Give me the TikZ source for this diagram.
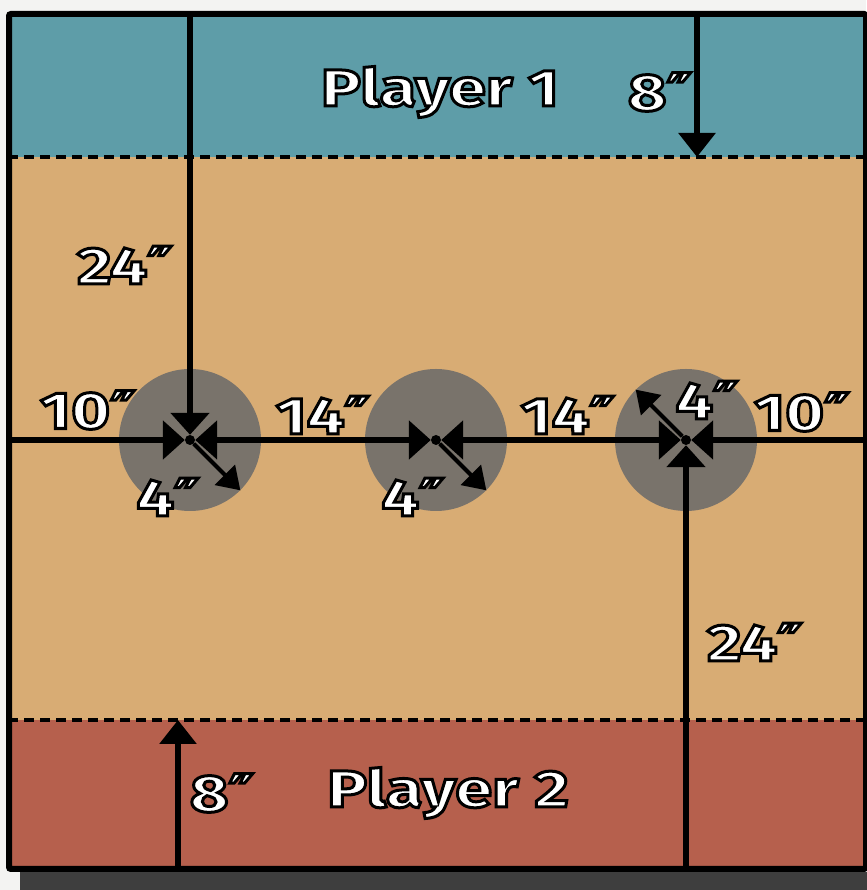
\documentclass[tikz,border=0pt]{standalone}
\usepackage{fontspec}
\newfontfamily\boardfont{Fira Sans}[FakeStretch=1.28]
\newfontfamily\markfont{DejaVu Sans}[FakeStretch=1.1]
\usetikzlibrary{arrows.meta}

\definecolor{paper}{HTML}{F3F3F2}
\definecolor{shadowgrey}{HTML}{3E3E3E}
\definecolor{sand}{HTML}{D8AC74}
\definecolor{bluezone}{HTML}{5E9DA8}
\definecolor{redzone}{HTML}{B6604D}
\definecolor{discgrey}{HTML}{79736B}

% white letters with a black rim
\newcommand{\outl}[1]{\special{pdf:literal direct 2 Tr 3 w 0 0 0 RG}#1\special{pdf:literal direct 0 Tr}}
\newcommand{\inch}{{\markfont\bfseries\char"2033}}

\begin{document}
\begin{tikzpicture}[x=1pt,y=1pt,
  lbl/.style={font=\boardfont\bfseries\fontsize{52}{52}\selectfont,text=white,inner sep=0pt},
  disc/.style={circle,fill=discgrey,minimum size=142pt,inner sep=0pt},
  dot/.style={circle,fill=black,minimum size=10pt,inner sep=0pt},
  dim/.style={line width=6pt,-{Triangle[length=22pt,width=38pt]}},
  dimboth/.style={line width=6pt,{Triangle[length=22pt,width=38pt]}-{Triangle[length=22pt,width=38pt]}},
  half/.style={line width=6pt,-{Triangle[length=24pt,width=36pt]}},
  rad/.style={line width=4pt,-{Triangle[length=22pt,width=28pt]}},
  zone/.style={line width=3.5pt,dash pattern=on 10pt off 6pt}]
\useasboundingbox (0,0) rectangle (866,890);
\fill[paper] (0,0) rectangle (866,890);
% shadow and board
\fill[shadowgrey] (20,0) rectangle (870,18);
\fill[sand] (8,19) rectangle (866,878);
\fill[bluezone] (8,733) rectangle (866,878);
\fill[redzone] (8,19) rectangle (866,170);
\draw[zone] (8,733) -- (866,733);
\draw[zone] (8,170) -- (866,170);
\draw[line width=6pt,rounded corners=2pt] (9,21) rectangle (866,876);

% objectives
\node[disc] (o1) at (190,450) {};
\node[disc] (o2) at (436,450) {};
\node[disc] (o3) at (686,450) {};
\node[dot] (c1) at (o1) {};
\node[dot] (c2) at (o2) {};
\node[dot] (c3) at (o3) {};

\coordinate (lft) at (8,450);
\coordinate (rgt) at (866,450);
\coordinate (top1) at (190,878);
\coordinate (bot3) at (686,19);
\coordinate (top8) at (697,878);
\coordinate (edge1) at (697,733);
\coordinate (bot8) at (178,19);
\coordinate (edge2) at (178,170);

\draw[dim] (lft) -- (c1);
\draw[dimboth] (c1) -- (c2);
\draw[dimboth] (c2) -- (c3);
\draw[dim] (rgt) -- (c3);
\draw[dim] (top1) -- (c1);
\draw[dim] (bot3) -- (c3);
\draw[rad] (c1) -- (o1.-45);
\draw[rad] (c2) -- (o2.-45);
\draw[rad] (c3) -- (o3.135);
\draw[half] (top8) -- (edge1);
\draw[half] (bot8) -- (edge2);

% labels
\node[lbl] (p1) at (440,798) {\outl{Player 1}};
\node[lbl] (p2) at (448,97) {\outl{Player 2}};
\node[lbl] (d8a) at (660,798) {\outl{8\inch}};
\node[lbl] (d8b) at (222,97) {\outl{8\inch}};
\node[lbl] (d24a) at (125,625) {\outl{24\inch}};
\node[lbl] (d24b) at (755,248) {\outl{24\inch}};
\node[lbl] (d10a) at (88,480) {\outl{10\inch}};
\node[lbl] (d10b) at (802,478) {\outl{10\inch}};
\node[lbl] (d14a) at (323,475) {\outl{14\inch}};
\node[lbl] (d14b) at (568,475) {\outl{14\inch}};
\node[lbl] (r1) at (168,393) {\outl{4\inch}};
\node[lbl] (r2) at (413,393) {\outl{4\inch}};
\node[lbl] (r3) at (707,490) {\outl{4\inch}};
\end{tikzpicture}
\end{document}
